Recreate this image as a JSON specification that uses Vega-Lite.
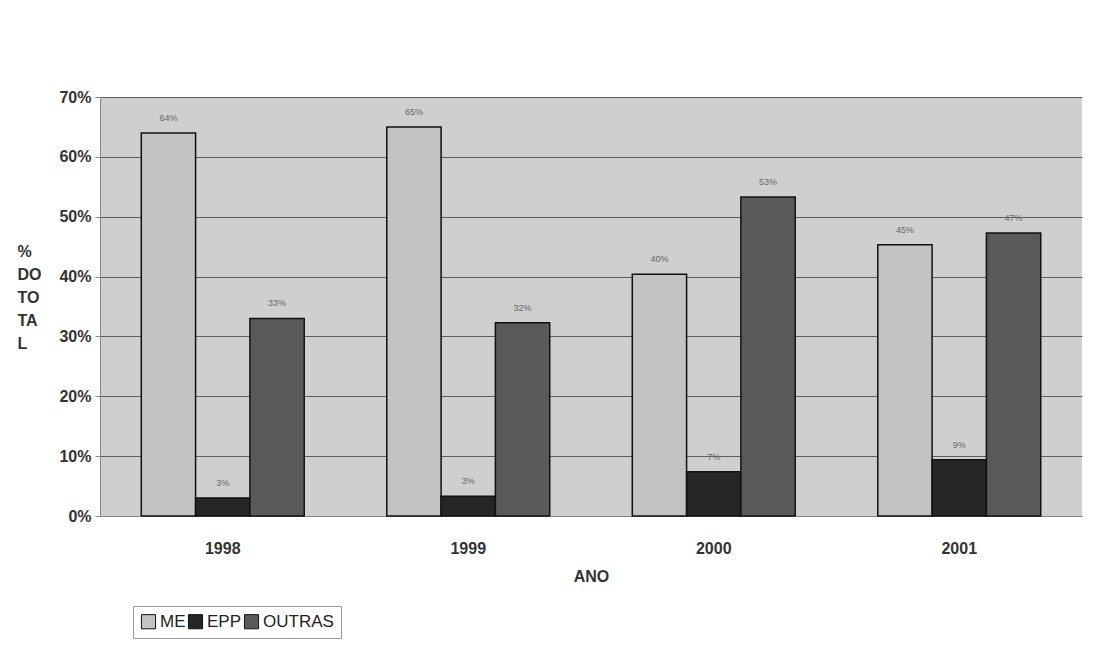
{
  "$schema": "https://vega.github.io/schema/vega-lite/v6.json",
  "autosize": {"type": "none"},
  "padding": {"left": 100, "top": 97, "right": 20, "bottom": 148},
  "width": 982,
  "height": 419,
  "background": "white",
  "config": {
    "font": "Liberation Sans",
    "view": {"fill": "#cfcfcf", "stroke": null}
  },
  "data": {
    "values": [
      {"ano": "1998", "tipo": "ME", "valor": 0.64},
      {"ano": "1998", "tipo": "EPP", "valor": 0.03},
      {"ano": "1998", "tipo": "OUTRAS", "valor": 0.33},
      {"ano": "1999", "tipo": "ME", "valor": 0.65},
      {"ano": "1999", "tipo": "EPP", "valor": 0.033},
      {"ano": "1999", "tipo": "OUTRAS", "valor": 0.323},
      {"ano": "2000", "tipo": "ME", "valor": 0.404},
      {"ano": "2000", "tipo": "EPP", "valor": 0.074},
      {"ano": "2000", "tipo": "OUTRAS", "valor": 0.533},
      {"ano": "2001", "tipo": "ME", "valor": 0.453},
      {"ano": "2001", "tipo": "EPP", "valor": 0.094},
      {"ano": "2001", "tipo": "OUTRAS", "valor": 0.473}
    ]
  },
  "encoding": {
    "x": {
      "field": "ano",
      "type": "nominal",
      "scale": {"padding": 0},
      "axis": {
        "title": "ANO",
        "labelAngle": 0,
        "labelFont": "Liberation Sans",
        "labelFontSize": 16,
        "labelFontWeight": "bold",
        "labelColor": "#333333",
        "labelPadding": 24,
        "ticks": false,
        "domainColor": "#888888",
        "titleFont": "Liberation Sans",
        "titleFontSize": 16,
        "titleFontWeight": "bold",
        "titleColor": "#333333",
        "titlePadding": 12
      }
    },
    "xOffset": {
      "field": "tipo",
      "type": "nominal",
      "sort": ["ME", "EPP", "OUTRAS"],
      "scale": {"paddingInner": 0, "paddingOuter": 0.76}
    },
    "y": {
      "field": "valor",
      "type": "quantitative",
      "scale": {"domain": [0, 0.7], "nice": false},
      "axis": {
        "title": ["%", "DO", "TO", "TA", "L"],
        "titleAngle": 0,
        "titleAlign": "left",
        "titleBaseline": "top",
        "titleX": -83,
        "titleY": 146,
        "titleLineHeight": 23,
        "titleFont": "Liberation Sans",
        "titleFontSize": 16,
        "titleFontWeight": "bold",
        "titleColor": "#333333",
        "values": [0, 0.1, 0.2, 0.3, 0.4, 0.5, 0.6, 0.7],
        "format": ".0%",
        "labelFont": "Liberation Sans",
        "labelFontSize": 16,
        "labelFontWeight": "bold",
        "labelColor": "#333333",
        "labelPadding": 4,
        "tickSize": 5,
        "tickColor": "#888888",
        "domainColor": "#888888",
        "grid": true,
        "gridColor": "#5e5e5e",
        "gridWidth": 1
      }
    }
  },
  "layer": [
    {
      "mark": {"type": "bar", "stroke": "#111111", "strokeWidth": 1.5},
      "encoding": {
        "color": {
          "field": "tipo",
          "type": "nominal",
          "sort": ["ME", "EPP", "OUTRAS"],
          "scale": {"domain": ["ME", "EPP", "OUTRAS"], "range": ["#c3c3c3", "#262626", "#5a5a5a"]},
          "legend": {
            "title": null,
            "orient": "none",
            "legendX": 33,
            "legendY": 509,
            "direction": "horizontal",
            "symbolType": "square",
            "symbolSize": 200,
            "symbolStrokeColor": "#111111",
            "symbolStrokeWidth": 1,
            "labelFont": "Liberation Sans",
            "labelFontSize": 17,
            "labelColor": "#222222",
            "labelOffset": 3,
            "columnPadding": 0,
            "strokeColor": "#999999",
            "padding": 7,
            "fillColor": "white"
          }
        }
      }
    },
    {
      "mark": {"type": "text", "baseline": "bottom", "dy": -10, "fontSize": 9, "color": "#666666", "font": "Liberation Sans"},
      "encoding": {
        "text": {"field": "valor", "type": "quantitative", "format": ".0%"}
      }
    }
  ]
}
